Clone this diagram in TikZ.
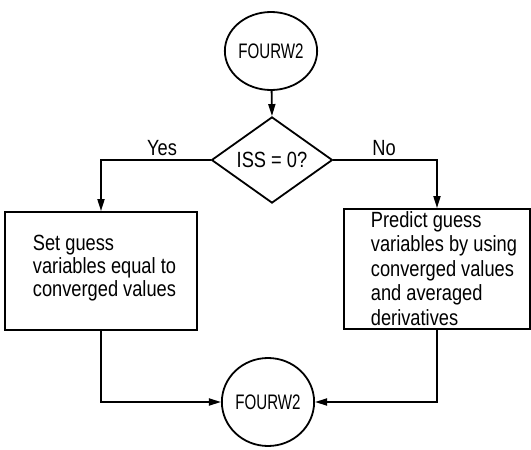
\documentclass[tikz,border=0pt]{standalone}
\usepackage{fontspec}
\setmainfont[FakeStretch=0.83]{Liberation Sans}
\newfontfamily\namefont[FakeStretch=0.72]{Liberation Sans}
\usetikzlibrary{arrows.meta,shapes.geometric}
\begin{document}
\begin{tikzpicture}[x=1pt,y=-1pt,line width=1.8pt,
  flow/.style={-{Triangle[length=12pt,width=7pt]}},
  terminal/.style={draw,ellipse,inner sep=0pt,font=\namefont\fontsize{21}{24}\selectfont},
  decision/.style={draw,diamond,inner sep=0pt,minimum width=121pt,minimum height=70pt,
    font=\fontsize{22}{24}\selectfont},
  procbox/.style={draw,rectangle,inner sep=0pt},
  boxtext/.style={inner sep=0pt,align=left,anchor=base west},
  branch/.style={inner sep=0pt,anchor=base,font=\fontsize{22}{24}\selectfont}
]
\useasboundingbox (0,0) rectangle (531,450);

% entry and exit connectors
\node[terminal,minimum width=82pt,minimum height=78pt] (top) at (271,51) {FOURW2};
\node[terminal,minimum width=78pt,minimum height=88pt] (bot) at (268,402) {FOURW2};

% test on ISS
\node[decision] (dec) at (272,160) {ISS = 0?};

% the two branches
\node[procbox,minimum width=192pt,minimum height=118pt] (set) at (101,271) {};
\node[procbox,minimum width=186pt,minimum height=120pt] (pred) at (437,269) {};

% box texts, anchored at the baseline of their last line
\node[boxtext,font=\fontsize{22}{23}\selectfont] (settext) at (32,296)
  {Set guess\\variables equal to\\converged values};
\node[boxtext,font=\fontsize{22}{24.5}\selectfont] (predtext) at (370,325)
  {Predict guess\\variables by using\\converged values\\and averaged\\derivatives};

% branch labels
\node[branch] (yes) at (162,155) {Yes};
\node[branch] (no) at (384,155) {No};

% connectors
\draw[flow] (top) -- (dec.north);
\draw[flow] (dec.west) -| (set.north);
\draw[flow] (dec.east) -| (pred.north);
\draw[flow] (set.south) |- (bot.west);
\draw[flow] (pred.south) |- (bot.east);
\end{tikzpicture}
\end{document}
